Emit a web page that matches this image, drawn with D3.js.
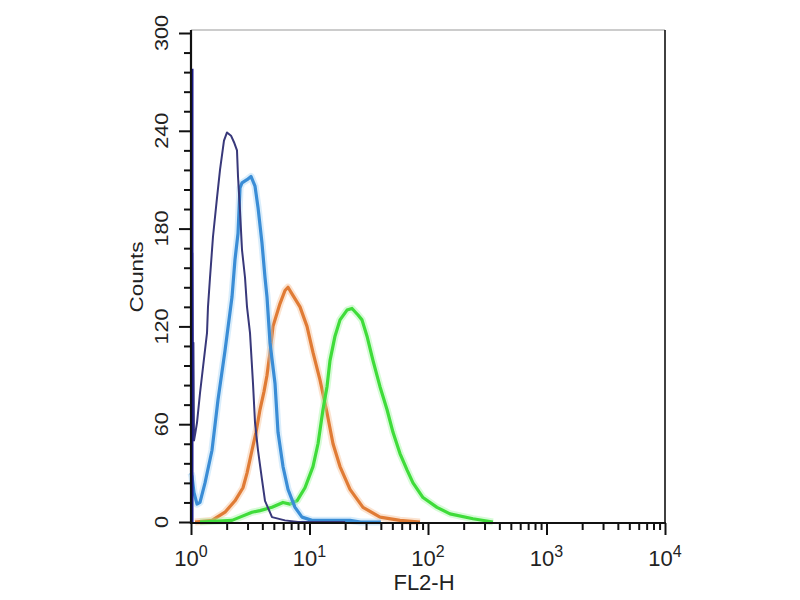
<!DOCTYPE html>
<html>
<head>
<meta charset="utf-8">
<script src="https://d3js.org/d3.v7.min.js"></script>
<style>
  body { margin: 0; background: #fff; }
  svg { display: block; font-family: "Liberation Sans", Arial, sans-serif; }
</style>
</head>
<body>
<div id="chart"></div>
<script>
// histogram values (FL2-H intensity, counts)
const navyX = [1.0, 1.0, 1.012, 1.024, 1.036, 1.048, 1.06, 1.09, 1.124, 1.191, 1.263, 1.365, 1.391, 1.447, 1.533, 1.658, 1.757, 1.898, 2.013, 2.176, 2.306, 2.444, 2.493, 2.591, 2.694, 2.856, 2.969, 3.147, 3.336, 3.469, 3.677, 3.974, 4.212, 4.826, 6.213, 8.0, 20];
const navyCounts = [0, 278, 150, 165, 95, 110, 50, 55, 61, 79, 95, 116, 132, 150, 175, 199, 216, 234, 239, 237, 233, 228, 212, 191, 167, 150, 132, 116, 85, 61, 44, 26, 13, 3, 1, 0, 0];

const blueX = [1.0, 1.02, 1.06, 1.124, 1.191, 1.313, 1.504, 1.69, 1.936, 2.218, 2.351, 2.493, 2.591, 2.694, 2.969, 3.209, 3.469, 3.677, 3.974, 4.212, 4.379, 4.642, 5.116, 5.424, 5.976, 6.586, 7.545, 8.645, 10.5, 22, 27, 40];
const blueCounts = [30, 28, 18, 11, 12, 24, 44, 75, 105, 138, 161, 177, 205, 208, 210, 212, 206, 193, 171, 150, 138, 110, 85, 55, 34, 20, 9, 3, 1, 1, 0, 0];

const orangeX = [1.081, 1.504, 1.936, 2.351, 2.746, 2.969, 3.272, 3.536, 3.823, 4.13, 4.379, 4.642, 4.92, 5.638, 6.213, 6.586, 7.117, 8.314, 9.526, 10.7, 12.27, 14.05, 15.79, 18.09, 21.97, 28.28, 39.35, 58.03, 85.6];
const orangeCounts = [0, 1, 6, 13, 21, 30, 44, 55, 69, 80, 90, 104, 120, 134, 142, 144, 140, 132, 120, 104, 87, 67, 48, 34, 20, 9, 3, 1, 0];

const greenX = [1.191, 2.218, 2.591, 3.272, 3.823, 4.826, 5.976, 6.846, 7.845, 9.162, 10.7, 11.8, 13.0, 14.05, 14.89, 16.41, 18.09, 20.73, 22.84, 25.67, 27.73, 30.57, 34.35, 39.35, 45.08, 50.66, 58.03, 66.49, 74.7, 90.75, 119.1, 153.3, 239.7, 353.6];
const greenCounts = [0, 1, 3, 6, 7, 9, 12, 11, 13, 21, 34, 48, 69, 83, 99, 114, 124, 130, 131, 127, 124, 114, 99, 83, 69, 55, 42, 32, 24, 15, 9, 5, 2, 0];

// axis ticks
const yTicks = [0, 60, 120, 180, 240, 300];
const yMinorStep = 12;
const xExponents = [0, 1, 2, 3, 4];

const width = 800, height = 600;
const plotLeft = 191, plotRight = 665, plotTop = 30, plotBottom = 523;

const svg = d3.select("#chart").append("svg")
  .attr("width", width)
  .attr("height", height);

const x = d3.scaleLog().domain([1, 1e4]).range([plotLeft, plotRight]);
const y = d3.scaleLinear().domain([0, 300]).range([522, 33]);

// frame: thin top, right border
svg.append("line").attr("x1", plotLeft).attr("x2", plotRight).attr("y1", plotTop).attr("y2", plotTop)
  .attr("stroke", "#999").attr("stroke-width", 1.2);
svg.append("line").attr("x1", plotRight).attr("x2", plotRight).attr("y1", plotTop).attr("y2", plotBottom)
  .attr("stroke", "#111").attr("stroke-width", 1.6);

// curves
const line = d3.line()
  .x(d => x(d[0]))
  .y(d => y(d[1]));

const series = [
  { xs: orangeX, ys: orangeCounts, color: "#e07b35", glow: "#f4b98a", w: 3.2 },
  { xs: greenX, ys: greenCounts, color: "#3fdc3a", glow: "#9af59a", w: 3.2 },
  { xs: blueX, ys: blueCounts, color: "#3a8dd6", glow: "#9fd2f6", w: 3.2 },
  { xs: navyX, ys: navyCounts, color: "#38387a", glow: null, w: 2 }
];

const curves = svg.append("g").attr("fill", "none").attr("stroke-linejoin", "round");
series.forEach(s => {
  const pts = s.xs.map((v, i) => [v, s.ys[i]]);
  if (s.glow) {
    curves.append("path").attr("d", line(pts))
      .attr("stroke", s.glow).attr("stroke-width", s.w + 4).attr("stroke-opacity", 0.4);
  }
  curves.append("path").attr("d", line(pts))
    .attr("stroke", s.color).attr("stroke-width", s.w);
});

// spike at the first channel drawn a bit heavier
svg.append("line")
  .attr("x1", x(navyX[1]) + 1).attr("x2", x(navyX[1]) + 1)
  .attr("y1", y(navyCounts[1])).attr("y2", y(0))
  .attr("stroke", "#1a1a8c").attr("stroke-width", 3);

// y axis
const yMinor = d3.range(0, 301, yMinorStep).filter(v => !yTicks.includes(v));
const yAxis = svg.append("g").attr("transform", `translate(${plotLeft},0)`);
yAxis.append("g")
  .call(d3.axisLeft(y).tickValues(yMinor).tickSize(7).tickSizeOuter(0).tickFormat(""))
  .call(g => g.select(".domain").remove());
yAxis.append("g")
  .call(d3.axisLeft(y).tickValues(yTicks).tickSize(12).tickSizeOuter(0).tickFormat(""))
  .call(g => g.select(".domain").remove());
yAxis.selectAll(".tick line").attr("stroke", "#111").attr("stroke-width", 2);
yAxis.append("line").attr("x1", 0).attr("x2", 0).attr("y1", plotTop).attr("y2", plotBottom + 1)
  .attr("stroke", "#111").attr("stroke-width", 2.2);

svg.append("g").selectAll("text")
  .data(yTicks)
  .join("text")
  .attr("transform", d => `translate(168,${y(d)}) rotate(-90) scale(1.2,1)`)
  .attr("text-anchor", "middle")
  .attr("font-size", 18)
  .attr("fill", "#222")
  .text(d => d);

svg.append("text")
  .attr("transform", "translate(143,277) rotate(-90) scale(1.18,1)")
  .attr("text-anchor", "middle")
  .attr("font-size", 19)
  .attr("fill", "#222")
  .text("Counts");

// x axis
const xMajor = xExponents.map(e => Math.pow(10, e));
const xMinor = [];
xExponents.slice(0, -1).forEach(e => {
  d3.range(2, 10).forEach(m => xMinor.push(m * Math.pow(10, e)));
});
const xAxis = svg.append("g").attr("transform", `translate(0,${plotBottom})`);
xAxis.append("g")
  .call(d3.axisBottom(x).tickValues(xMinor).tickSize(7).tickSizeOuter(0).tickFormat(""))
  .call(g => g.select(".domain").remove());
xAxis.append("g")
  .call(d3.axisBottom(x).tickValues(xMajor).tickSize(12).tickSizeOuter(0).tickFormat(""))
  .call(g => g.select(".domain").remove());
xAxis.selectAll(".tick line").attr("stroke", "#111").attr("stroke-width", 2);
xAxis.append("line").attr("x1", plotLeft - 1).attr("x2", plotRight + 1).attr("y1", 0).attr("y2", 0)
  .attr("stroke", "#111").attr("stroke-width", 2.2);

const xLabels = svg.append("g").selectAll("text")
  .data(xExponents)
  .join("text")
  .attr("x", d => x(Math.pow(10, d)))
  .attr("y", 566)
  .attr("text-anchor", "middle")
  .attr("font-size", 22)
  .attr("fill", "#222");
xLabels.append("tspan").text("10");
xLabels.append("tspan")
  .attr("font-size", 16)
  .attr("dy", -9)
  .text(d => d);

svg.append("text")
  .attr("x", 424)
  .attr("y", 590)
  .attr("text-anchor", "middle")
  .attr("font-size", 22)
  .attr("fill", "#222")
  .text("FL2-H");
</script>
</body>
</html>
